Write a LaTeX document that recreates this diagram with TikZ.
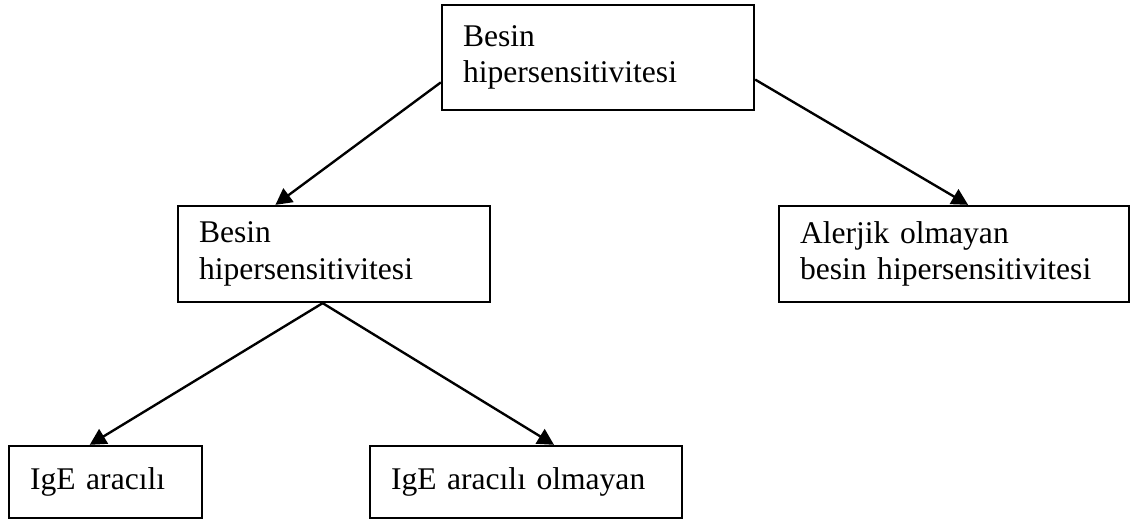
\documentclass[tikz,border=0pt]{standalone}
\usepackage{fontspec}
\setmainfont{Liberation Serif}
\usetikzlibrary{arrows.meta}

\begin{document}
\begin{tikzpicture}[
    x=0.38pt, y=-0.38pt,
    box/.style={rectangle, draw, line width=0.85pt, inner xsep=8pt, inner ysep=0pt,
        align=left, font=\fontsize{12}{13.9}\selectfont},
    arr/.style={-{Triangle[length=6.2pt, width=6.4pt]}, line width=0.9pt}
]
  \useasboundingbox (0,0) rectangle (1132,520);

  % boxes
  \node[box, text width=102.6pt, minimum height=39.9pt] (top) at (598,57.5)
      {Besin\\hipersensitivitesi};
  \node[box, text width=102.6pt, minimum height=36.5pt] (mid) at (334,254)
      {Besin\\hipersensitivitesi};
  \node[box, text width=117pt, minimum height=36.5pt] (nonallergic) at (954,254)
      {Alerjik olmayan\\besin hipersensitivitesi};
  \node[box, text width=57.3pt, minimum height=27.4pt] (ige) at (105.5,482)
      {IgE aracılı};
  \node[box, text width=102.6pt, minimum height=27.4pt] (nonige) at (526,482)
      {IgE aracılı olmayan};

  % arrows
  \draw[arr] (top.189.6) -- (mid.140.9);
  \draw[arr] (top.-8.2) -- (nonallergic.74.8);
  \draw[arr] (mid.257.1) -- (ige.113.3);
  \draw[arr] (mid.257.1) -- (nonige.53.1);
\end{tikzpicture}
\end{document}
